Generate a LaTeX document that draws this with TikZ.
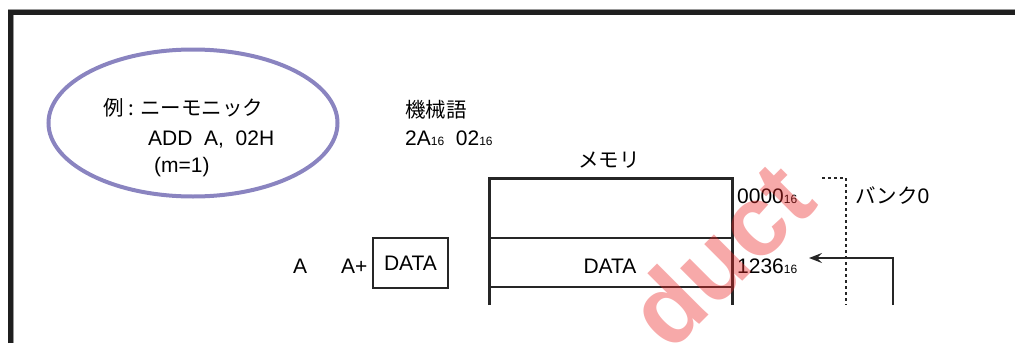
\documentclass[tikz,border=0pt]{standalone}
\usepackage{fontspec}
\setmainfont{Liberation Sans}
\newfontfamily\jp{Noto Sans CJK JP}
\usetikzlibrary{arrows.meta,shapes.geometric}
\newcommand{\hexsub}[1]{{\fontsize{12}{12}\selectfont #1}}
\tikzset{
  txt/.style={inner sep=0pt, font=\fontsize{21}{25}\selectfont},
  jptxt/.style={inner sep=0pt, font=\jp\fontsize{20.5}{25}\selectfont},
  memline/.style={line width=3pt, black!85},
  cellline/.style={line width=2pt, black!85},
  regbox/.style={draw=black!85, line width=2.5pt, minimum width=75pt, minimum height=50pt, inner sep=0pt, font=\fontsize{21}{25}\selectfont},
  bankline/.style={line width=1.8pt, black!85, dash pattern=on 3pt off 3pt},
  ptr/.style={line width=2pt, black!85, -{Stealth[length=13pt,width=10pt,inset=5pt]}},
  wmark/.style={text={rgb,255:red,235;green,40;blue,40}, opacity=0.4, inner sep=0pt, font=\bfseries\fontsize{100}{100}\selectfont},
}
\begin{document}
\begin{tikzpicture}[x=1pt,y=-1pt]
\useasboundingbox (0,0) rectangle (1015,343);
% frame
\draw[black!40, line width=1pt] (8,9.5) -- (1015,9.5);
\draw[black!40, line width=1pt] (13.5,15) -- (13.5,343);
\draw[black!88, line width=5pt] (10.5,343) -- (10.5,12.5) -- (1015,12.5);
% ellipse
\node[draw={rgb,255:red,138;green,132;blue,192}, line width=4pt, ellipse, minimum width=289pt, minimum height=147pt, inner sep=0pt] (ell) at (193,123) {};
\node[jptxt, anchor=base west] (ex) at (103,115) {例 : ニーモニック};
\node[txt, anchor=base west] (mn) at (148,145) {ADD\ \ A,\ \ 02H};
\node[txt, anchor=base west] (mm) at (154,172) {(m=1)};
% machine code
\node[jptxt, anchor=base west] (mc) at (405,117) {機械語};
\node[txt, anchor=base west] (code) at (405,145) {2A\hexsub{16}\ \ 02\hexsub{16}};
% memory
\node[jptxt, anchor=center] (memt) at (609,160) {メモリ};
\draw[memline] (489,305) -- (489,178) -- (732,178) -- (732,305);
\draw[cellline] (489,238) -- (732,238);
\draw[cellline] (489,287) -- (732,287);
\node[txt, anchor=base] (md) at (610,273) {DATA};
\node[txt, anchor=base west] (a0) at (737,203) {0000\hexsub{16}};
\node[txt, anchor=base west] (a1) at (737,273) {1236\hexsub{16}};
% bank
\coordinate (bk1) at (822,178);
\coordinate (bk2) at (846,178);
\coordinate (bk3) at (846,305);
\draw[bankline] (bk1) -- (bk2) -- (bk3);
\node[txt, anchor=base west] (bank) at (855,203) {{\jp\fontsize{20.5}{25}\selectfont バンク}0};
% pointer arrow
\coordinate (ps) at (893,305);
\coordinate (pt) at (809,258);
\draw[ptr] (ps) |- (pt);
% register
\node[txt, anchor=base west] (ra) at (293,273) {A};
\node[txt, anchor=base west] (rap) at (341,273) {A+};
\node[regbox] (reg) at (410.5,263) {DATA};
% watermark
\begin{scope}
\clip (14,15) rectangle (1015,343);
\node[wmark, rotate=45] (wm) at (720,254) {duct};
\end{scope}
\end{tikzpicture}
\end{document}
